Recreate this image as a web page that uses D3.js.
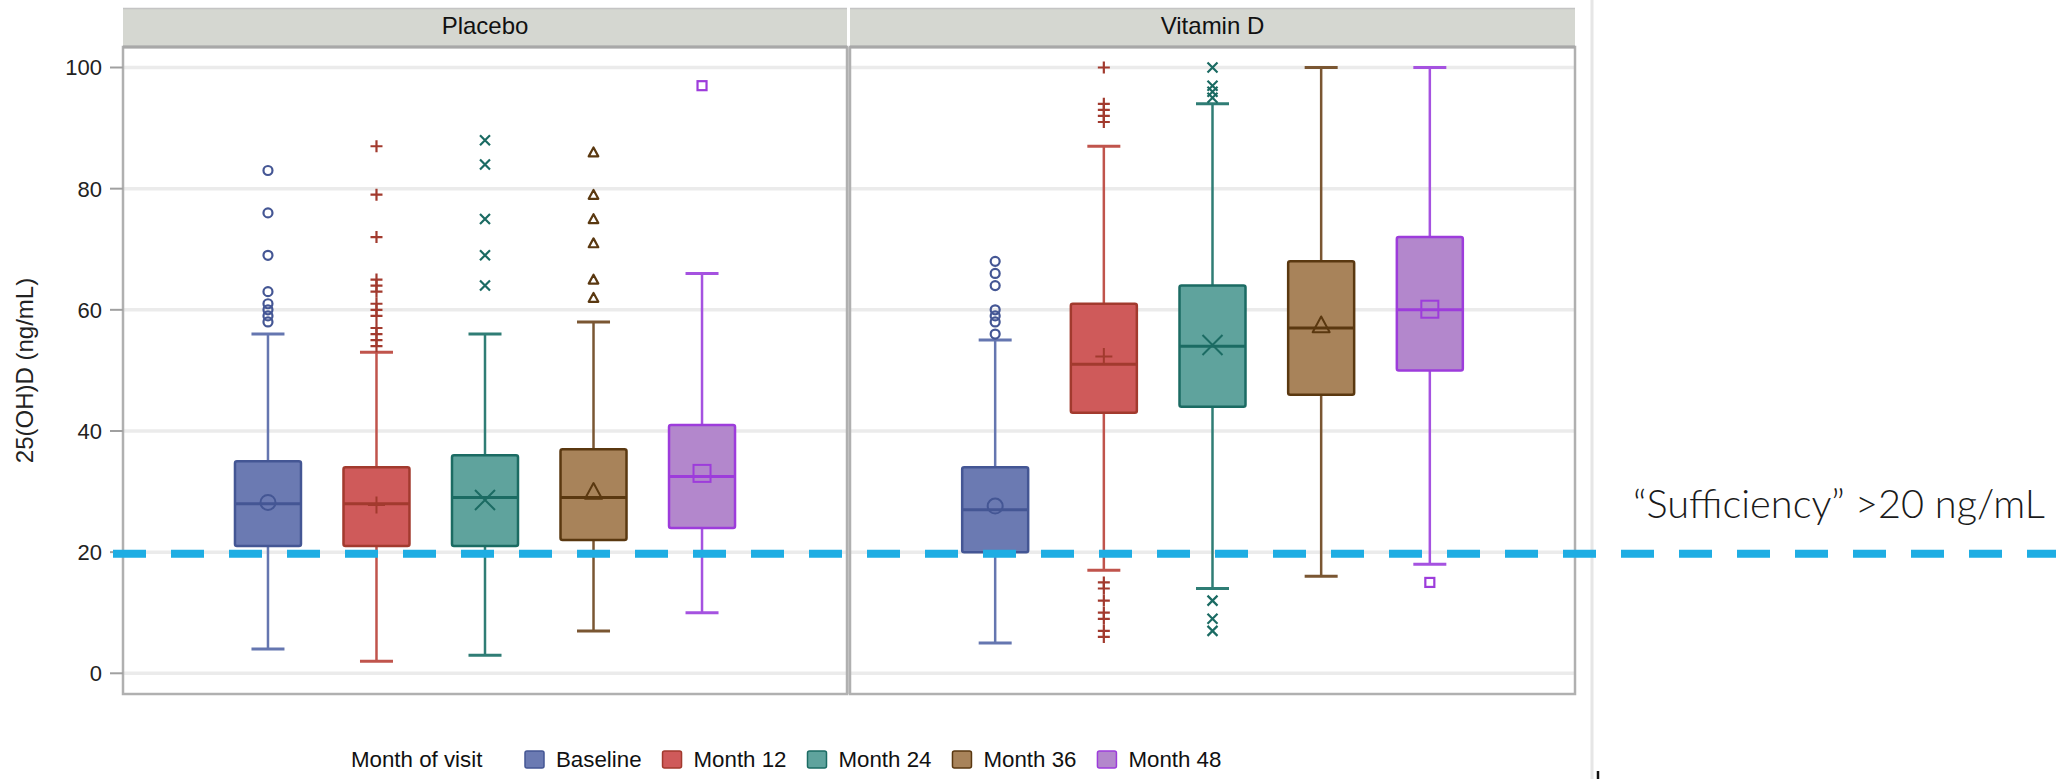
<!DOCTYPE html>
<html><head><meta charset="utf-8">
<script src="https://cdn.jsdelivr.net/npm/d3@7"></script>
<style>html,body{margin:0;padding:0;background:#fff;} svg{display:block;}</style>
</head><body><svg id="chart" width="2056" height="779"></svg>
<script>
// ---------------- DATA ----------------
const panels = ["Placebo", "Vitamin D"];
const visits = ["Baseline", "Month 12", "Month 24", "Month 36", "Month 48"];
const yTicks = [0, 20, 40, 60, 80, 100];
const yTitle = "25(OH)D (ng/mL)";
const legendTitle = "Month of visit";
const thresholdValue = 20;
const thresholdLabel = "\u201CSufficiency\u201D >20 ng/mL";

const placeboQ1 = [21, 21, 21, 22, 24];
const placeboMedian = [28, 28, 29, 29, 32.5];
const placeboQ3 = [35, 34, 36, 37, 41];
const placeboMean = [28.2, 27.8, 28.6, 30, 33];
const placeboLow = [4, 2, 3, 7, 10];
const placeboHigh = [56, 53, 56, 58, 66];
const placeboOutliers = [
  [83, 76, 69, 63, 61, 60, 59, 58],
  [87, 79, 72, 65, 64, 63, 61, 60, 59, 57, 56, 55, 54],
  [88, 84, 75, 69, 64],
  [86, 79, 75, 71, 65, 62],
  [97]
];

const vitdQ1 = [20, 43, 44, 46, 50];
const vitdMedian = [27, 51, 54, 57, 60];
const vitdQ3 = [34, 61, 64, 68, 72];
const vitdMean = [27.6, 52.3, 54.2, 57.5, 60.1];
const vitdLow = [5, 17, 14, 16, 18];
const vitdHigh = [55, 87, 94, 100, 100];
const vitdOutliers = [
  [68, 66, 64, 60, 59, 58, 56],
  [100, 94, 93, 92, 91, 15, 14, 12, 10, 9, 7, 6],
  [100, 97, 96, 95, 12, 9, 7],
  [],
  [15]
];

// ---------------- STYLE ----------------
const fillColors = ["#6b7ab2", "#cf5a5a", "#5fa39d", "#a8835a", "#b387cc"];
const lineColors = ["#445694", "#a23a2e", "#1b6b63", "#5a3810", "#9d3cdb"];
const whiskerColors = ["#6576b0", "#c0544c", "#2f7d75", "#7a5632", "#a552e0"];
const markerTypes = ["circle", "plus", "x", "triangle", "square"];

const panelData = [
  {name: panels[0], q1: placeboQ1, med: placeboMedian, q3: placeboQ3, mean: placeboMean, lo: placeboLow, hi: placeboHigh, out: placeboOutliers},
  {name: panels[1], q1: vitdQ1, med: vitdMedian, q3: vitdQ3, mean: vitdMean, lo: vitdLow, hi: vitdHigh, out: vitdOutliers}
];

const svg = d3.select("#chart");
const W = 2056, H = 779;
const headerTop = 8, headerBottom = 47, plotBottom = 694;
const panelX = [[123, 847], [850, 1575]];
const font = "'Liberation Sans', Arial, sans-serif";

const y = d3.scaleLinear().domain([0, 100]).range([673.3, 67.5]);

// slide separator line & small tick
svg.append("line").attr("x1", 1592).attr("x2", 1592).attr("y1", 0).attr("y2", H)
  .attr("stroke", "#e6e6e6").attr("stroke-width", 3);
svg.append("line").attr("x1", 1598).attr("x2", 1598).attr("y1", 771).attr("y2", H)
  .attr("stroke", "#111").attr("stroke-width", 2.5);

// divider fill between panels
svg.append("rect").attr("x", panelX[0][1]).attr("y", headerBottom)
  .attr("width", panelX[1][0] - panelX[0][1]).attr("height", plotBottom - headerBottom)
  .attr("fill", "#d2d2d2");

function marker(g, type, cx, cy, h, color, sw) {
  if (type === "circle") {
    g.append("circle").attr("cx", cx).attr("cy", cy).attr("r", h)
      .attr("fill", "none").attr("stroke", color).attr("stroke-width", sw);
  } else if (type === "plus") {
    g.append("path").attr("d", `M${cx - h},${cy}H${cx + h}M${cx},${cy - h}V${cy + h}`)
      .attr("fill", "none").attr("stroke", color).attr("stroke-width", sw);
  } else if (type === "x") {
    g.append("path").attr("d", `M${cx - h},${cy - h}L${cx + h},${cy + h}M${cx - h},${cy + h}L${cx + h},${cy - h}`)
      .attr("fill", "none").attr("stroke", color).attr("stroke-width", sw);
  } else if (type === "triangle") {
    g.append("path").attr("d", `M${cx},${cy - h}L${cx + h},${cy + h * 0.85}L${cx - h},${cy + h * 0.85}Z`)
      .attr("fill", "none").attr("stroke", color).attr("stroke-width", sw).attr("stroke-linejoin", "round");
  } else {
    g.append("rect").attr("x", cx - h).attr("y", cy - h).attr("width", 2 * h).attr("height", 2 * h)
      .attr("fill", "none").attr("stroke", color).attr("stroke-width", sw);
  }
}

panelData.forEach((p, pi) => {
  const [x0, x1] = panelX[pi];
  const g = svg.append("g");
  // plot background
  g.append("rect").attr("x", x0).attr("y", headerBottom).attr("width", x1 - x0).attr("height", plotBottom - headerBottom)
    .attr("fill", "#fff");
  // header
  g.append("rect").attr("x", x0).attr("y", headerTop).attr("width", x1 - x0).attr("height", headerBottom - headerTop)
    .attr("fill", "#d5d7d1");
  g.append("line").attr("x1", x0).attr("x2", x1).attr("y1", headerTop + 0.5).attr("y2", headerTop + 0.5)
    .attr("stroke", "#c4c4c4").attr("stroke-width", 1.5);
  g.append("text").attr("x", (x0 + x1) / 2).attr("y", 33.5).attr("text-anchor", "middle")
    .attr("font-family", font).attr("font-size", 24).attr("fill", "#111").text(p.name);

  // gridlines
  g.selectAll(".grid").data(yTicks).enter().append("line")
    .attr("x1", x0).attr("x2", x1).attr("y1", d => y(d)).attr("y2", d => y(d))
    .attr("stroke", "#ebebeb").attr("stroke-width", 3.5);

  const x = d3.scalePoint().domain(visits).range([x0, x1]).padding(1.336);
  const bw = 66, cw = 33;

  visits.forEach((v, i) => {
    const cx = x(v);
    const lc = lineColors[i], wc = whiskerColors[i];
    // whiskers
    g.append("line").attr("x1", cx).attr("x2", cx).attr("y1", y(p.q3[i])).attr("y2", y(p.hi[i]))
      .attr("stroke", wc).attr("stroke-width", 2.5);
    g.append("line").attr("x1", cx).attr("x2", cx).attr("y1", y(p.q1[i])).attr("y2", y(p.lo[i]))
      .attr("stroke", wc).attr("stroke-width", 2.5);
    [p.hi[i], p.lo[i]].forEach(val => {
      g.append("line").attr("x1", cx - cw / 2).attr("x2", cx + cw / 2).attr("y1", y(val)).attr("y2", y(val))
        .attr("stroke", wc).attr("stroke-width", 3);
    });
    // box
    g.append("rect").attr("x", cx - bw / 2).attr("y", y(p.q3[i])).attr("width", bw)
      .attr("height", y(p.q1[i]) - y(p.q3[i])).attr("rx", 2)
      .attr("fill", fillColors[i]).attr("stroke", lc).attr("stroke-width", 2.5);
    // median
    g.append("line").attr("x1", cx - bw / 2).attr("x2", cx + bw / 2).attr("y1", y(p.med[i])).attr("y2", y(p.med[i]))
      .attr("stroke", lc).attr("stroke-width", 3);
    // mean marker
    const meanSize = {circle: 7.5, plus: 8.5, x: 10, triangle: 8.5, square: 8.5}[markerTypes[i]];
    marker(g, markerTypes[i], cx, y(p.mean[i]), meanSize, lc, 2);
    // outliers
    const outSize = {circle: 4.5, plus: 6, x: 5, triangle: 4.8, square: 4.5}[markerTypes[i]];
    p.out[i].forEach(o => marker(g, markerTypes[i], cx, y(o), outSize, lc, 2.2));
  });

  // panel border
  g.append("rect").attr("x", x0).attr("y", headerBottom).attr("width", x1 - x0).attr("height", plotBottom - headerBottom)
    .attr("fill", "none").attr("stroke", "#b0b0b0").attr("stroke-width", 2.5);
  g.append("line").attr("x1", x0).attr("x2", x1).attr("y1", headerBottom).attr("y2", headerBottom)
    .attr("stroke", "#a8a8a8").attr("stroke-width", 3);
});

// y axis ticks and labels
const ax = svg.append("g");
ax.selectAll(".tk").data(yTicks).enter().append("line")
  .attr("x1", 110).attr("x2", panelX[0][0]).attr("y1", d => y(d)).attr("y2", d => y(d))
  .attr("stroke", "#a0a0a0").attr("stroke-width", 2);
ax.selectAll(".tl").data(yTicks).enter().append("text")
  .attr("x", 102).attr("y", d => y(d)).attr("dy", "0.36em").attr("text-anchor", "end")
  .attr("font-family", font).attr("font-size", 22).attr("fill", "#222").text(d => d);
svg.append("text").attr("transform", `translate(33,${(headerBottom + plotBottom) / 2}) rotate(-90)`)
  .attr("text-anchor", "middle").attr("font-family", font).attr("font-size", 24).attr("fill", "#222").text(yTitle);

// legend
const lg = svg.append("g").attr("font-family", font).attr("font-size", 22.3).attr("fill", "#111");
lg.append("text").attr("x", 351).attr("y", 767).text(legendTitle);
let lx = 525;
visits.forEach((v, i) => {
  lg.append("rect").attr("x", lx).attr("y", 751).attr("width", 19).attr("height", 17).attr("rx", 2)
    .attr("fill", fillColors[i]).attr("stroke", lineColors[i]).attr("stroke-width", 1.5);
  const t = lg.append("text").attr("x", lx + 31).attr("y", 767).text(v);
  lx = lx + 31 + t.node().getComputedTextLength() + 21;
});

// threshold dashed line
svg.append("line").attr("x1", 113).attr("x2", W).attr("y1", y(thresholdValue) + 1.5).attr("y2", y(thresholdValue) + 1.5)
  .attr("stroke", "#1eade3").attr("stroke-width", 8).attr("stroke-dasharray", "33 25");

// threshold label
const lbl = svg.append("text").attr("x", 1633).attr("y", 518)
  .attr("font-family", "Lato, 'Open Sans', sans-serif").attr("font-weight", 300)
  .attr("font-size", 37).attr("fill", "#1a1a1a").text(thresholdLabel);
const wNow = lbl.node().getComputedTextLength();
lbl.attr("font-size", 37 * 412 / wNow);
</script></body></html>
